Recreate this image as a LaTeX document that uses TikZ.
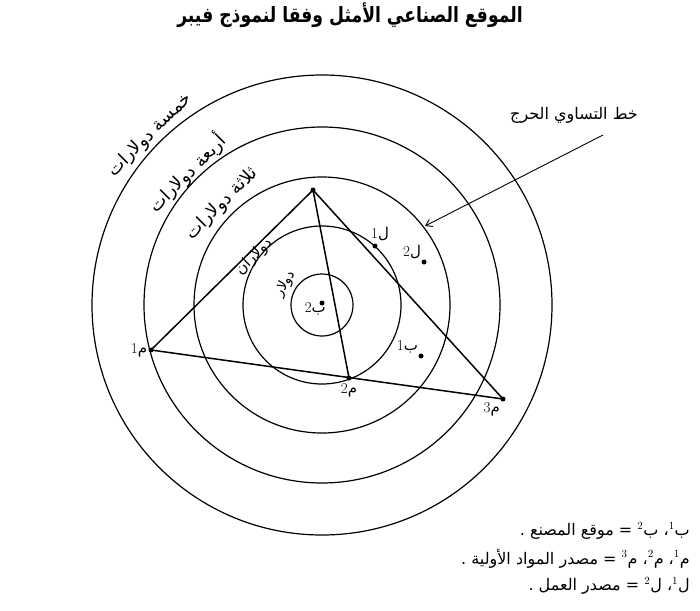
\documentclass[tikz,border=0pt]{standalone}
\usepackage{fontspec}
\usepackage{tikz}
\usetikzlibrary{arrows.meta, positioning}
\newfontfamily\arabicfont[Script=Arabic]{DejaVu Sans}
\newfontfamily\titlefont[Script=Arabic, FakeStretch=0.82]{DejaVu Sans Bold}
\TeXXeTstate=1
\newcommand{\artxt}[1]{{\arabicfont\beginR #1\endR}}
\tikzset{
  ring/.style={draw=black, line width=1.2pt},
  side/.style={draw=black, line width=1.5pt},
  spot/.style={circle, fill=black, inner sep=0pt, minimum size=5pt},
  pointer/.style={-{Straight Barb[length=6pt, width=8pt]}, line width=0.9pt},
  ringtag/.style={font=\fontsize{18}{18}\selectfont\arabicfont, inner sep=0pt, rotate=45},
  ptag/.style={font=\fontsize{15}{15}\selectfont, inner sep=1pt},
  keyline/.style={font=\fontsize{16}{16}\selectfont, inner sep=0pt},
}

\begin{document}
\begin{tikzpicture}[x=1pt, y=-1pt]
\useasboundingbox (0,0) rectangle (700,610);
\coordinate (ctr) at (322,305);
\foreach \r in {31,79,128,178,230}
  \draw[ring] (ctr) circle[radius=\r pt];

\node[font=\fontsize{21}{21}\selectfont\titlefont] (title) at (350,15) {\beginR الموقع الصناعي الأمثل وفقا لنموذج فيبر\endR};

\node[spot] (apex) at (313,190) {};
\node[spot] (m1) at (151,350) {};
\node[spot] (m2) at (349,378) {};
\node[spot] (m3) at (503,399) {};
\node[spot] (l1) at (375,246) {};
\node[spot] (l2) at (424,262) {};
\node[spot] (b1) at (421,356) {};
\node[spot] (b2) at (322,303) {};

\draw[side] (m1.center) -- (apex.center) -- (m3.center) -- cycle;
\draw[side] (apex.center) -- (m2.center);

\node[ptag, left=0pt of m1] (m1tag) {1\artxt{م}};
\node[ptag, below=2pt of m2] (m2tag) {2\artxt{م}};
\node[ptag, below left=0pt of m3] (m3tag) {3\artxt{م}};
\node[ptag, above=1pt of l1, xshift=5pt] (l1tag) {1\artxt{ل}};
\node[ptag, above left=0pt of l2] (l2tag) {2\artxt{ل}};
\node[ptag, above left=0pt of b1] (b1tag) {1\artxt{ب}};
\node[ptag, anchor=base east] (b2tag) at (327,312) {2\artxt{ب}};

\node[ringtag] (five) at (150,135) {\beginR خمسة دولارات\endR};
\node[ringtag] (four) at (187,173) {\beginR أربعة دولارات\endR};
\node[ringtag] (three) at (222,204) {\beginR ثلاثة دولارات\endR};
\node[ringtag, font=\fontsize{15}{15}\selectfont\arabicfont] (two) at (254,257) {\beginR دولاران\endR};
\node[ringtag, font=\fontsize{14}{14}\selectfont\arabicfont, rotate=15] (one) at (285,284) {\beginR دولار\endR};

\node[font=\fontsize{16}{16}\selectfont] (isoline) at (574,115) {\artxt{خط التساوي الحرج}};
\coordinate (tail) at (603,135);
\coordinate (tip) at (425,226);
\draw[pointer] (tail) -- (tip);

\node[keyline, anchor=north east] (key1) at (690,522) {\artxt{ب$^{1}$، ب$^{2}$ = موقع المصنع .}};
\node[keyline, below left=9pt and 0pt of key1.south east] (key2) {\artxt{م$^{1}$، م$^{2}$، م$^{3}$ = مصدر المواد الأولية .}};
\node[keyline, below left=9pt and 0pt of key2.south east] (key3) {\artxt{ل$^{1}$، ل$^{2}$ = مصدر العمل .}};
\end{tikzpicture}
\end{document}
